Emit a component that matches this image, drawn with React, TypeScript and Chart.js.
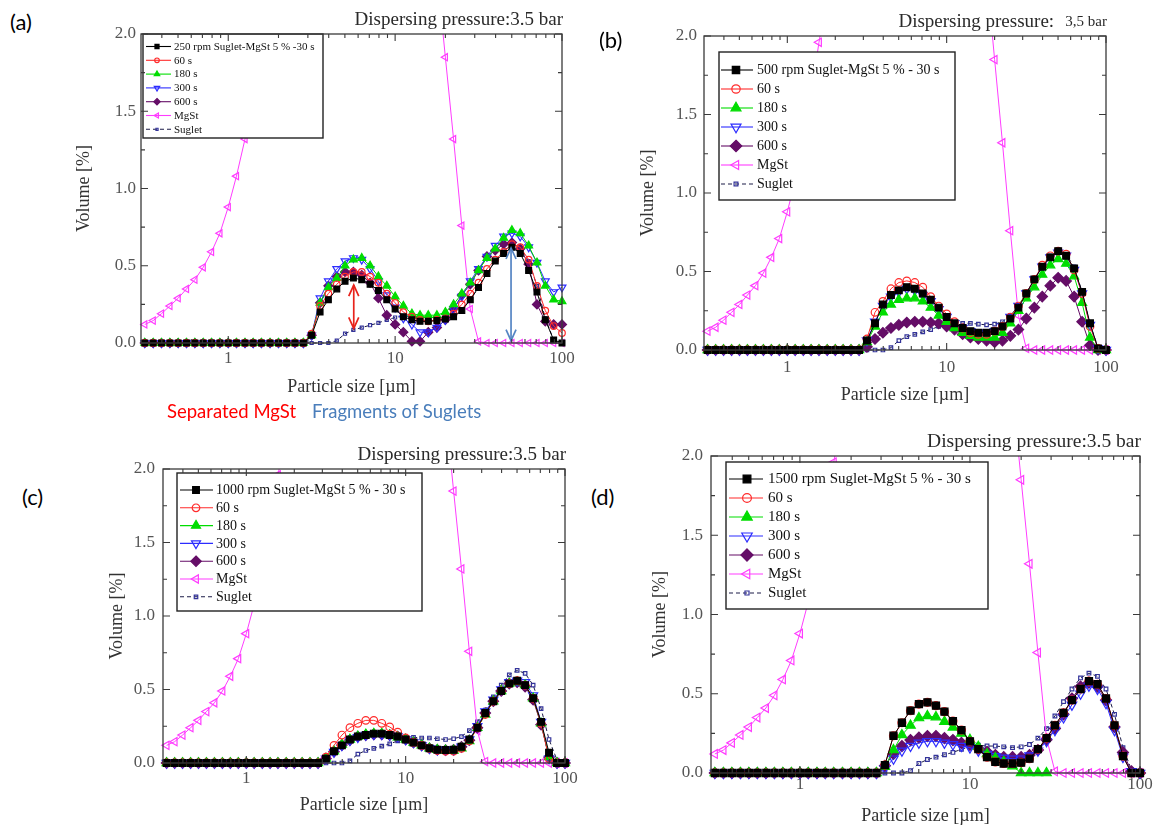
import React, { useEffect, useRef } from 'react';
import { Chart, registerables } from 'chart.js';

Chart.register(...registerables);

// ---------------- data ----------------
const SIZES = [
  0.316, 0.355, 0.398, 0.447, 0.501, 0.562, 0.631, 0.708, 0.794, 0.891,
  1.0, 1.12, 1.26, 1.41, 1.58, 1.78, 2.0, 2.24, 2.51, 2.82,
  3.16, 3.55, 3.98, 4.47, 5.01, 5.62, 6.31, 7.08, 7.94, 8.91,
  10.0, 11.2, 12.6, 14.1, 15.8, 17.8, 20.0, 22.4, 25.1, 28.2,
  31.6, 35.5, 39.8, 44.7, 50.1, 56.2, 63.1, 70.8, 79.4, 89.1, 100,
];

const MGST = [
  0.12, 0.145, 0.19, 0.24, 0.29, 0.35, 0.41, 0.49, 0.59, 0.71,
  0.88, 1.08, 1.32, 1.62, 1.96, 2.25, 2.7, 3.1, 3.5, 3.9,
  4.3, 4.6, 4.9, 5.1, 5.2, 5.2, 5.1, 4.9, 4.6, 4.3,
  3.9, 3.5, 3.1, 2.8, 2.6, 2.4, 1.85, 1.32, 0.76, 0.22,
  0.01, 0, 0, 0, 0, 0, 0, 0, 0, 0, 0,
];

const SUGLET = [
  0, 0, 0, 0, 0, 0, 0, 0, 0, 0,
  0, 0, 0, 0, 0, 0, 0, 0, 0, 0,
  0, 0, 0, 0.015, 0.06, 0.085, 0.1, 0.115, 0.13, 0.15,
  0.165, 0.175, 0.17, 0.17, 0.165, 0.16, 0.165, 0.18, 0.22, 0.28,
  0.36, 0.45, 0.53, 0.6, 0.63, 0.61, 0.53, 0.37, 0.16, 0.02, 0,
];

// (a) 250 rpm
const A_30 = [
  0, 0, 0, 0, 0, 0, 0, 0, 0, 0, 0, 0, 0, 0, 0, 0, 0, 0, 0, 0,
  0.05, 0.2, 0.28, 0.35, 0.4, 0.42, 0.41, 0.38, 0.34, 0.28,
  0.22, 0.17, 0.15, 0.14, 0.14, 0.145, 0.155, 0.17, 0.21, 0.28,
  0.36, 0.45, 0.53, 0.58, 0.62, 0.58, 0.47, 0.33, 0.15, 0.02, 0,
];
const A_60 = [
  0, 0, 0, 0, 0, 0, 0, 0, 0, 0, 0, 0, 0, 0, 0, 0, 0, 0, 0, 0,
  0.06, 0.24, 0.32, 0.38, 0.43, 0.46, 0.46, 0.43, 0.39, 0.32,
  0.26, 0.2, 0.17, 0.15, 0.14, 0.15, 0.16, 0.19, 0.25, 0.32,
  0.39, 0.48, 0.54, 0.59, 0.64, 0.62, 0.54, 0.37, 0.21, 0.11, 0.065,
];
const A_180 = [
  0, 0, 0, 0, 0, 0, 0, 0, 0, 0, 0, 0, 0, 0, 0, 0, 0, 0, 0, 0,
  0.05, 0.26, 0.36, 0.42, 0.5, 0.54, 0.55, 0.5, 0.43, 0.37,
  0.3, 0.24, 0.19, 0.18, 0.18, 0.18, 0.2, 0.25, 0.32, 0.39,
  0.47, 0.55, 0.61, 0.68, 0.73, 0.71, 0.63, 0.52, 0.37, 0.28, 0.27,
];
const A_300 = [
  0, 0, 0, 0, 0, 0, 0, 0, 0, 0, 0, 0, 0, 0, 0, 0, 0, 0, 0, 0,
  0.05, 0.29, 0.4, 0.48, 0.53, 0.55, 0.54, 0.48, 0.4, 0.31,
  0.23, 0.16, 0.12, 0.07, 0.07, 0.1, 0.15, 0.22, 0.3, 0.4,
  0.48, 0.56, 0.63, 0.69, 0.71, 0.69, 0.62, 0.52, 0.4, 0.33, 0.36,
];
const A_600 = [
  0, 0, 0, 0, 0, 0, 0, 0, 0, 0, 0, 0, 0, 0, 0, 0, 0, 0, 0, 0,
  0.05, 0.26, 0.37, 0.43, 0.46, 0.46, 0.44, 0.39, 0.29, 0.18,
  0.12, 0.07, 0.01, 0.01, 0.07, 0.1, 0.15, 0.22, 0.31, 0.38,
  0.47, 0.56, 0.6, 0.64, 0.65, 0.61, 0.51, 0.25, 0.14, 0.12, 0.12,
];

// (b) 500 rpm
const B_30 = [
  0, 0, 0, 0, 0, 0, 0, 0, 0, 0, 0, 0, 0, 0, 0, 0, 0, 0, 0, 0,
  0.06, 0.17, 0.29, 0.35, 0.38, 0.4, 0.39, 0.36, 0.32, 0.27,
  0.21, 0.17, 0.14, 0.12, 0.11, 0.11, 0.12, 0.15, 0.2, 0.27,
  0.36, 0.45, 0.53, 0.59, 0.63, 0.6, 0.52, 0.37, 0.17, 0.01, 0,
];
const B_60 = [
  0, 0, 0, 0, 0, 0, 0, 0, 0, 0, 0, 0, 0, 0, 0, 0, 0, 0, 0, 0,
  0.07, 0.24, 0.31, 0.39, 0.43, 0.44, 0.43, 0.4, 0.34, 0.28,
  0.23, 0.18, 0.14, 0.11, 0.1, 0.1, 0.12, 0.15, 0.21, 0.28,
  0.36, 0.45, 0.54, 0.6, 0.63, 0.61, 0.51, 0.36, 0.15, 0.01, 0,
];
const B_180 = [
  0, 0, 0, 0, 0, 0, 0, 0, 0, 0, 0, 0, 0, 0, 0, 0, 0, 0, 0, 0,
  0.05, 0.15, 0.24, 0.29, 0.32, 0.33, 0.33, 0.31, 0.27, 0.22,
  0.18, 0.14, 0.11, 0.09, 0.08, 0.08, 0.08, 0.11, 0.17, 0.25,
  0.33, 0.4, 0.48, 0.54, 0.58, 0.55, 0.47, 0.3, 0.08, 0, 0,
];
const B_300 = [
  0, 0, 0, 0, 0, 0, 0, 0, 0, 0, 0, 0, 0, 0, 0, 0, 0, 0, 0, 0,
  0.06, 0.18, 0.28, 0.34, 0.37, 0.39, 0.38, 0.35, 0.31, 0.26,
  0.21, 0.17, 0.14, 0.12, 0.11, 0.11, 0.12, 0.15, 0.21, 0.28,
  0.36, 0.45, 0.53, 0.59, 0.62, 0.6, 0.51, 0.36, 0.16, 0.01, 0,
];
const B_600 = [
  0, 0, 0, 0, 0, 0, 0, 0, 0, 0, 0, 0, 0, 0, 0, 0, 0, 0, 0, 0,
  0.02, 0.07, 0.11, 0.14, 0.16, 0.175, 0.18, 0.18, 0.175, 0.17,
  0.15, 0.13, 0.1, 0.08, 0.07, 0.06, 0.05, 0.06, 0.09, 0.13,
  0.2, 0.27, 0.34, 0.41, 0.46, 0.44, 0.34, 0.18, 0.03, 0, 0,
];

// (c) 1000 rpm
const C_30 = [
  0, 0, 0, 0, 0, 0, 0, 0, 0, 0, 0, 0, 0, 0, 0, 0, 0, 0, 0, 0,
  0.03, 0.08, 0.12, 0.16, 0.18, 0.19, 0.2, 0.2, 0.19, 0.18,
  0.16, 0.14, 0.12, 0.1, 0.09, 0.088, 0.09, 0.11, 0.16, 0.24,
  0.34, 0.42, 0.49, 0.54, 0.56, 0.53, 0.44, 0.28, 0.07, 0, 0,
];
const C_60 = [
  0, 0, 0, 0, 0, 0, 0, 0, 0, 0, 0, 0, 0, 0, 0, 0, 0, 0, 0, 0,
  0.04, 0.12, 0.19, 0.24, 0.27, 0.29, 0.29, 0.27, 0.245, 0.21,
  0.17, 0.14, 0.12, 0.1, 0.085, 0.08, 0.08, 0.1, 0.15, 0.24,
  0.33, 0.42, 0.49, 0.54, 0.56, 0.53, 0.44, 0.27, 0.03, 0, 0,
];
const C_180 = [
  0, 0, 0, 0, 0, 0, 0, 0, 0, 0, 0, 0, 0, 0, 0, 0, 0, 0, 0, 0,
  0.03, 0.08, 0.125, 0.16, 0.18, 0.195, 0.2, 0.2, 0.19, 0.175,
  0.16, 0.14, 0.12, 0.1, 0.09, 0.085, 0.085, 0.1, 0.15, 0.24,
  0.33, 0.42, 0.49, 0.54, 0.55, 0.53, 0.44, 0.27, 0.04, 0, 0,
];
const C_300 = [
  0, 0, 0, 0, 0, 0, 0, 0, 0, 0, 0, 0, 0, 0, 0, 0, 0, 0, 0, 0,
  0.03, 0.075, 0.12, 0.155, 0.175, 0.19, 0.195, 0.195, 0.19, 0.18,
  0.16, 0.14, 0.12, 0.1, 0.09, 0.09, 0.09, 0.11, 0.16, 0.25,
  0.35, 0.43, 0.5, 0.55, 0.56, 0.55, 0.46, 0.28, 0.03, 0, 0,
];
const C_600 = [
  0, 0, 0, 0, 0, 0, 0, 0, 0, 0, 0, 0, 0, 0, 0, 0, 0, 0, 0, 0,
  0.03, 0.077, 0.122, 0.156, 0.18, 0.19, 0.195, 0.195, 0.19, 0.18,
  0.16, 0.14, 0.12, 0.1, 0.09, 0.088, 0.09, 0.11, 0.155, 0.24,
  0.34, 0.42, 0.49, 0.54, 0.55, 0.52, 0.43, 0.26, 0.04, 0, 0,
];

// (d) 1500 rpm
const D_30 = [
  0, 0, 0, 0, 0, 0, 0, 0, 0, 0, 0, 0, 0, 0, 0, 0, 0, 0, 0, 0,
  0.05, 0.235, 0.317, 0.393, 0.435, 0.446, 0.425, 0.387, 0.328, 0.271,
  0.2, 0.15, 0.1, 0.07, 0.06, 0.06, 0.065, 0.09, 0.15, 0.22,
  0.3, 0.38, 0.46, 0.53, 0.58, 0.56, 0.47, 0.3, 0.107, 0, 0,
];
const D_60 = [
  0, 0, 0, 0, 0, 0, 0, 0, 0, 0, 0, 0, 0, 0, 0, 0, 0, 0, 0, 0,
  0.05, 0.235, 0.317, 0.393, 0.435, 0.446, 0.425, 0.387, 0.328, 0.271,
  0.2, 0.15, 0.1, 0.07, 0.06, 0.06, 0.065, 0.09, 0.15, 0.22,
  0.3, 0.38, 0.46, 0.53, 0.58, 0.56, 0.47, 0.3, 0.107, 0, 0,
];
const D_180 = [
  0, 0, 0, 0, 0, 0, 0, 0, 0, 0, 0, 0, 0, 0, 0, 0, 0, 0, 0, 0,
  0.04, 0.145, 0.24, 0.3, 0.347, 0.36, 0.353, 0.324, 0.288, 0.25,
  0.21, 0.166, 0.12, 0.095, 0.07, 0.044, 0, 0, 0, 0,
  null, null, null, null, null, null, null, null, null, null, null,
];
const D_300 = [
  0, 0, 0, 0, 0, 0, 0, 0, 0, 0, 0, 0, 0, 0, 0, 0, 0, 0, 0, 0,
  0.03, 0.09, 0.14, 0.17, 0.19, 0.2, 0.2, 0.19, 0.18, 0.17,
  0.16, 0.14, 0.12, 0.105, 0.095, 0.09, 0.09, 0.11, 0.14, 0.2,
  0.27, 0.35, 0.43, 0.5, 0.55, 0.53, 0.44, 0.27, 0.1, 0.01, 0,
];
const D_600 = [
  0, 0, 0, 0, 0, 0, 0, 0, 0, 0, 0, 0, 0, 0, 0, 0, 0, 0, 0, 0,
  0.045, 0.12, 0.17, 0.208, 0.223, 0.233, 0.233, 0.22, 0.208, 0.19,
  0.177, 0.155, 0.134, 0.113, 0.1, 0.1, 0.1, 0.113, 0.145, 0.21,
  0.28, 0.37, 0.47, 0.545, 0.57, 0.545, 0.46, 0.29, 0.13, 0.01, 0,
];

const FIRST_LABELS = [
  '250 rpm Suglet-MgSt 5 % -30 s',
  '500 rpm Suglet-MgSt 5 % - 30 s',
  '1000 rpm Suglet-MgSt 5 % - 30 s',
  '1500 rpm Suglet-MgSt 5 % - 30 s',
];
const OTHER_LABELS = ['60 s', '180 s', '300 s', '600 s', 'MgSt', 'Suglet'];
const PANEL_TAGS = ['(a)', '(b)', '(c)', '(d)'];

const X_TICKS = [1, 10, 100];
const X_MINOR = [0.4, 0.5, 0.6, 0.7, 0.8, 0.9, 2, 3, 4, 5, 6, 7, 8, 9, 20, 30, 40, 50, 60, 70, 80, 90];
const Y_TICKS = [0, 0.5, 1, 1.5, 2];
const Y_MINOR = [0.25, 0.75, 1.25, 1.75];

// annotation arrows in panel (a)
const ARROW_X = [5.65, 49.5];
const ARROW_TOP = [0.375, 0.615];
const ARROW_BOTTOM = [0.095, 0.015];
const ARROW_COLORS = ['#e8231c', '#5585c4'];

// ---------------- styles ----------------
const SERIF = '"Liberation Serif", "Times New Roman", serif';

const STYLES = [
  { color: '#000000', line: '#000000', shape: 'rect', rot: 0, fill: true, r: 5 },
  { color: '#ff2b2b', line: '#ff2b2b', shape: 'circle', rot: 0, fill: false, r: 4 },
  { color: '#00dd00', line: '#00dd00', shape: 'triangle', rot: 0, fill: true, r: 5.5 },
  { color: '#2c2cff', line: '#2c2cff', shape: 'triangle', rot: 180, fill: false, r: 5.5 },
  { color: '#650d67', line: '#650d67', shape: 'rectRot', rot: 0, fill: true, r: 5.5 },
  { color: '#ff3cff', line: '#ff3cff', shape: 'triangle', rot: -90, fill: false, r: 5 },
  { color: '#34349a', line: '#1c1c48', shape: 'rect', rot: 0, fill: false, r: 2.6, dash: [4, 3] },
];

type Seg = { t: string; s: number };
type PanelCfg = {
  canvas: { x: number; y: number; w: number; h: number };
  area: { l: number; t: number; r: number; b: number };
  yTitleX: number;
  xTitleY: number;
  yTickPad: number;
  xTickPad: number;
  ms: number;
  first: string;
  series: (number | null)[][];
  legend: { dx: number; dy: number; w: number; h: number; first: number; gap: number; l0: number; l1: number; mx: number; tx: number; font: number; ms: number };
  title: Seg[];
  arrows: boolean;
};

const PANELS: PanelCfg[] = [
  {
    canvas: { x: 55, y: 0, w: 520, h: 405 },
    area: { l: 141, t: 34, r: 562, b: 343 },
    yTitleX: 84, xTitleY: 387, yTickPad: 5, xTickPad: 5, ms: 0.82,
    first: FIRST_LABELS[0],
    series: [A_30, A_60, A_180, A_300, A_600],
    legend: { dx: 2, dy: 0, w: 180, h: 104, first: 12.5, gap: 13.8, l0: 3, l1: 28, mx: 14, tx: 31, font: 11, ms: 0.7 },
    title: [{ t: 'Dispersing pressure:3.5 bar', s: 19 }],
    arrows: true,
  },
  {
    canvas: { x: 620, y: 0, w: 501, h: 415 },
    area: { l: 704, t: 36, r: 1106, b: 350 },
    yTitleX: 648, xTitleY: 395, yTickPad: 7, xTickPad: 7, ms: 0.95,
    first: FIRST_LABELS[1],
    series: [B_30, B_60, B_180, B_300, B_600],
    legend: { dx: 15, dy: 16, w: 236, h: 148, first: 18, gap: 19, l0: 2, l1: 34, mx: 17, tx: 38, font: 14, ms: 1.1 },
    title: [{ t: 'Dispersing pressure:', s: 19 }, { t: '   3,5 bar', s: 15 }],
    arrows: false,
  },
  {
    canvas: { x: 90, y: 420, w: 490, h: 407 },
    area: { l: 163, t: 469, r: 565, b: 763 },
    yTitleX: 117, xTitleY: 805, yTickPad: 8, xTickPad: 5, ms: 0.95,
    first: FIRST_LABELS[2],
    series: [C_30, C_60, C_180, C_300, C_600],
    legend: { dx: 14, dy: 4, w: 245, h: 138, first: 17, gap: 17.8, l0: 3, l1: 36, mx: 19, tx: 39, font: 14, ms: 1.0 },
    title: [{ t: 'Dispersing pressure:3.5 bar', s: 19 }],
    arrows: false,
  },
  {
    canvas: { x: 640, y: 420, w: 517, h: 407 },
    area: { l: 711, t: 456, r: 1140, b: 773 },
    yTitleX: 660, xTitleY: 816, yTickPad: 8, xTickPad: 1, ms: 1.0,
    first: FIRST_LABELS[3],
    series: [D_30, D_60, D_180, D_300, D_600],
    legend: { dx: 15, dy: 6, w: 262, h: 147, first: 17, gap: 19, l0: 3, l1: 37, mx: 21, tx: 42, font: 15, ms: 1.1 },
    title: [{ t: 'Dispersing pressure:3.5 bar', s: 19.5 }],
    arrows: false,
  },
];

// ---------------- drawing helpers ----------------
function drawMarker(ctx: CanvasRenderingContext2D, shape: string, rot: number, x: number, y: number, r: number, fill: string, stroke: string) {
  ctx.save();
  ctx.translate(x, y);
  ctx.rotate((rot * Math.PI) / 180);
  ctx.beginPath();
  if (shape === 'circle') {
    ctx.arc(0, 0, r, 0, Math.PI * 2);
  } else if (shape === 'rect') {
    const s = r * Math.SQRT1_2;
    ctx.rect(-s, -s, 2 * s, 2 * s);
  } else if (shape === 'rectRot') {
    ctx.moveTo(0, -r);
    ctx.lineTo(r, 0);
    ctx.lineTo(0, r);
    ctx.lineTo(-r, 0);
    ctx.closePath();
  } else {
    let a = 0;
    ctx.moveTo(Math.sin(a) * r, -Math.cos(a) * r);
    a += (2 * Math.PI) / 3;
    ctx.lineTo(Math.sin(a) * r, -Math.cos(a) * r);
    a += (2 * Math.PI) / 3;
    ctx.lineTo(Math.sin(a) * r, -Math.cos(a) * r);
    ctx.closePath();
  }
  ctx.fillStyle = fill;
  ctx.fill();
  ctx.lineWidth = 1.2;
  ctx.strokeStyle = stroke;
  ctx.stroke();
  ctx.restore();
}

function makeDecor(p: PanelCfg) {
  return {
    id: 'panelDecor',
    afterDatasetsDraw(chart: any) {
      const ctx: CanvasRenderingContext2D = chart.ctx;
      const a = chart.chartArea;
      const xs = chart.scales.x;
      const ys = chart.scales.y;
      ctx.save();

      // arrows
      if (p.arrows) {
        ARROW_X.forEach((xv, i) => {
          const x = xs.getPixelForValue(xv);
          const y1 = ys.getPixelForValue(ARROW_TOP[i]);
          const y2 = ys.getPixelForValue(ARROW_BOTTOM[i]);
          ctx.strokeStyle = ARROW_COLORS[i];
          ctx.lineWidth = 1.7;
          ctx.beginPath();
          ctx.moveTo(x, y1);
          ctx.lineTo(x, y2);
          ctx.stroke();
          const h = 11;
          const w = 5;
          ctx.beginPath();
          ctx.moveTo(x - w, y1 + h);
          ctx.lineTo(x, y1);
          ctx.lineTo(x + w, y1 + h);
          ctx.stroke();
          ctx.beginPath();
          ctx.moveTo(x - w, y2 - h);
          ctx.lineTo(x, y2);
          ctx.lineTo(x + w, y2 - h);
          ctx.stroke();
        });
      }

      // legend box
      const L = p.legend;
      const bx = a.left + L.dx;
      const by = a.top + L.dy;
      ctx.fillStyle = '#ffffff';
      ctx.fillRect(bx, by, L.w, L.h);
      ctx.strokeStyle = '#222222';
      ctx.lineWidth = 1.4;
      ctx.strokeRect(bx, by, L.w, L.h);
      chart.data.datasets.forEach((ds: any, i: number) => {
        const y = by + L.first + i * L.gap;
        ctx.strokeStyle = ds.borderColor;
        ctx.lineWidth = 1.1;
        ctx.setLineDash(ds.borderDash || []);
        ctx.beginPath();
        ctx.moveTo(bx + L.l0, y);
        ctx.lineTo(bx + L.l1, y);
        ctx.stroke();
        ctx.setLineDash([]);
        drawMarker(ctx, ds.pointStyle, ds.pointRotation, bx + L.mx, y, ds.pointRadius * L.ms, ds.pointBackgroundColor, ds.pointBorderColor);
        ctx.fillStyle = '#111111';
        ctx.font = `${L.font}px ${SERIF}`;
        ctx.textAlign = 'left';
        ctx.textBaseline = 'middle';
        ctx.fillText(ds.label, bx + L.tx, y + 0.5);
      });

      // frame and inward ticks
      ctx.strokeStyle = '#3a3a3a';
      ctx.lineWidth = 1.3;
      ctx.strokeRect(a.left, a.top, a.right - a.left, a.bottom - a.top);
      ctx.lineWidth = 1.1;
      const tickX = (v: number, len: number) => {
        const x = xs.getPixelForValue(v);
        ctx.beginPath();
        ctx.moveTo(x, a.bottom);
        ctx.lineTo(x, a.bottom - len);
        ctx.moveTo(x, a.top);
        ctx.lineTo(x, a.top + len);
        ctx.stroke();
      };
      const tickY = (v: number, len: number) => {
        const y = ys.getPixelForValue(v);
        ctx.beginPath();
        ctx.moveTo(a.left, y);
        ctx.lineTo(a.left + len, y);
        ctx.moveTo(a.right, y);
        ctx.lineTo(a.right - len, y);
        ctx.stroke();
      };
      X_TICKS.forEach((v) => tickX(v, 7));
      X_MINOR.forEach((v) => tickX(v, 4));
      Y_TICKS.forEach((v) => tickY(v, 7));
      Y_MINOR.forEach((v) => tickY(v, 4));

      // pressure title (right aligned above the frame)
      ctx.fillStyle = '#2a2a2a';
      ctx.textBaseline = 'middle';
      ctx.textAlign = 'left';
      let total = 0;
      p.title.forEach((sg) => {
        ctx.font = `${sg.s}px ${SERIF}`;
        total += ctx.measureText(sg.t).width;
      });
      let tx = a.right + 1 - total;
      p.title.forEach((sg) => {
        ctx.font = `${sg.s}px ${SERIF}`;
        ctx.fillText(sg.t, tx, a.top - 14);
        tx += ctx.measureText(sg.t).width;
      });

      ctx.restore();
    },
  };
}

function buildConfig(p: PanelCfg): any {
  const labels = [p.first, ...OTHER_LABELS];
  const all = [...p.series, MGST, SUGLET];
  const datasets = all.map((vals, i) => {
    const st: any = STYLES[i];
    return {
      label: labels[i],
      data: SIZES.map((x, k) => ({ x, y: vals[k] })),
      borderColor: st.line,
      borderWidth: 1,
      borderDash: st.dash || [],
      pointStyle: st.shape,
      pointRotation: st.rot,
      pointRadius: st.r * p.ms,
      pointBorderColor: st.color,
      pointBackgroundColor: st.fill ? st.color : 'rgba(255,255,255,0)',
      pointBorderWidth: 1.2,
      tension: 0,
      fill: false,
      spanGaps: false,
      clip: { left: 8, top: 0, right: 8, bottom: 8 },
    };
  });

  const c = p.canvas;
  const lh = 18 * 1.2;
  const yW = p.area.l - c.x;
  const xH = c.y + c.h - p.area.b;
  const zeroPad = (s: any) => {
    s.paddingLeft = 0;
    s.paddingRight = 0;
    s.paddingTop = 0;
    s.paddingBottom = 0;
  };
  const tickFont = { family: SERIF, size: 17 };
  const titleFont = { family: SERIF, size: 18 };

  return {
    type: 'line',
    data: { datasets },
    options: {
      responsive: false,
      animation: false,
      events: [],
      layout: {
        padding: { left: 0, top: p.area.t - c.y, right: c.x + c.w - p.area.r, bottom: 0 },
      },
      plugins: {
        legend: { display: false },
        tooltip: { enabled: false },
        title: { display: false },
      },
      scales: {
        x: {
          type: 'logarithmic',
          min: 0.3,
          max: 100,
          afterBuildTicks: (s: any) => {
            s.ticks = X_TICKS.map((v) => ({ value: v }));
          },
          afterFit: (s: any) => {
            s.height = xH;
            zeroPad(s);
          },
          grid: { display: false, drawTicks: false },
          border: { display: false },
          ticks: {
            autoSkip: false,
            maxRotation: 0,
            minRotation: 0,
            padding: p.xTickPad,
            color: '#555555',
            font: tickFont,
            callback: (v: any) => String(v),
          },
          title: {
            display: true,
            text: 'Particle size [µm]',
            color: '#333333',
            font: titleFont,
            padding: { top: 0, bottom: Math.max(0, c.y + c.h - p.xTitleY - lh / 2) },
          },
        },
        y: {
          type: 'linear',
          min: 0,
          max: 2,
          afterBuildTicks: (s: any) => {
            s.ticks = Y_TICKS.map((v) => ({ value: v }));
          },
          afterFit: (s: any) => {
            s.width = yW;
            zeroPad(s);
          },
          grid: { display: false, drawTicks: false },
          border: { display: false },
          ticks: {
            padding: p.yTickPad,
            color: '#555555',
            font: tickFont,
            callback: (v: any) => Number(v).toFixed(1),
          },
          title: {
            display: true,
            text: 'Volume [%]',
            color: '#333333',
            font: titleFont,
            padding: { top: Math.max(0, p.yTitleX - c.x - lh / 2), bottom: 0 },
          },
        },
      },
    },
    plugins: [makeDecor(p)],
  };
}

function PanelChart({ p }: { p: PanelCfg }) {
  const ref = useRef<HTMLCanvasElement | null>(null);
  useEffect(() => {
    const el = ref.current;
    if (!el) return;
    const chart = new Chart(el, buildConfig(p));
    return () => chart.destroy();
  }, [p]);
  return (
    <canvas
      ref={ref}
      width={p.canvas.w}
      height={p.canvas.h}
      style={{ position: 'absolute', left: p.canvas.x, top: p.canvas.y, width: p.canvas.w, height: p.canvas.h }}
    />
  );
}

const TAG_POS = [
  { x: 10, y: 10 },
  { x: 599, y: 28 },
  { x: 22, y: 485 },
  { x: 591, y: 485 },
];

export default function App() {
  const sans = 'Lato, "Open Sans", "Noto Sans", sans-serif';
  return (
    <div style={{ position: 'absolute', left: 0, top: 0, width: 1157, height: 827, background: '#ffffff', overflow: 'hidden' }}>
      {PANELS.map((p, i) => (
        <PanelChart key={i} p={p} />
      ))}
      {PANEL_TAGS.map((t, i) => (
        <div key={t} style={{ position: 'absolute', left: TAG_POS[i].x, top: TAG_POS[i].y, font: `22px ${sans}`, lineHeight: '24px', color: '#000' }}>
          {t}
        </div>
      ))}
      <div style={{ position: 'absolute', left: 167, top: 399, font: `18.5px ${sans}`, lineHeight: '24px', color: '#ff0000', whiteSpace: 'nowrap' }}>
        Separated MgSt
      </div>
      <div style={{ position: 'absolute', left: 312, top: 399, font: `18.5px ${sans}`, lineHeight: '24px', color: '#4a7ebb', whiteSpace: 'nowrap' }}>
        Fragments of Suglets
      </div>
    </div>
  );
}
